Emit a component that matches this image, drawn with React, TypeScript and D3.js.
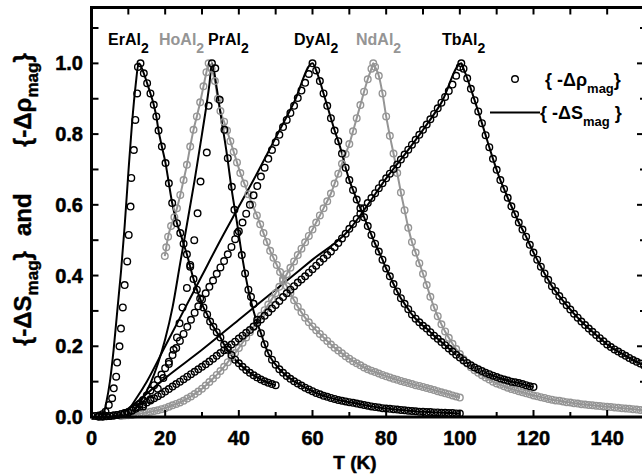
import React from 'react';
import * as d3 from 'd3';

type P = [number, number];

const W = 642;
const H = 476;
const BLACK = '#000000';
const GRAY = '#959595';

// ---------- axis ticks ----------
const xMajorTicks = [0, 20, 40, 60, 80, 100, 120, 140];
const xMinorTicks = [10, 30, 50, 70, 90, 110, 130, 150];
const yMajorTicks = [0, 0.2, 0.4, 0.6, 0.8, 1.0];
const yMinorTicks = [0.1, 0.3, 0.5, 0.7, 0.9, 1.1];
const yTickLabels = ['0.0', '0.2', '0.4', '0.6', '0.8', '1.0'];

// ---------- ErAl2 ----------
const erRho: P[] = [[0,.003],[1,.003],[2,.004],[3,.008],[3.8,.015],[4.7,.034],[5.6,.053],[6.05,.081],[6.7,.114],[6.96,.154],[7.6,.2],[8.0,.25],[8.5,.31],[9.0,.373],[9.7,.44],[10.1,.515],[10.6,.595],[10.8,.676],[11.5,.755],[11.9,.84],[12.4,.915],[12.6,.99],[13.3,1.0],[14.2,.972],[15.1,.944],[16,.915],[16.9,.883],[17.6,.85],[18.2,.81],[19.1,.765],[20.1,.718],[21,.661],[21.9,.605],[23.2,.548],[24.1,.52],[25,.49],[25.9,.46],[26.8,.425],[27.7,.39],[28.6,.36],[29.5,.335],[30.4,.31],[31.4,.29],[32.2,.27],[33.1,.255],[34,.24],[35,.225],[36,.205],[37,.19],[38,.175],[39,.162],[40,.152],[41,.142],[42,.133],[43,.125],[44,.118],[45,.112],[46,.106],[47,.101],[48,.097],[49,.093],[50,.09]];
const erSRise: P[] = [[0,0],[2.5,0],[3.3,.01],[4,.04],[5,.1],[6,.19],[7,.3],[8,.41],[9,.54],[10,.69],[11,.83],[12,.94],[12.8,1.0]];

// ---------- HoAl2 ----------
const hoRhoHead: P[] = [[19.9,.455],[20.3,.48],[20.8,.51],[21.6,.54],[22.5,.565],[23.2,.59],[24.1,.628],[25,.67],[25.9,.713],[26.8,.765],[27.7,.812],[28.6,.85],[29.5,.89],[30.4,.935],[31.2,.975],[31.8,1.0],[32.6,.985],[33.5,.95],[34.3,.9],[35,.865],[36,.835],[36.8,.81],[37.7,.78],[38.6,.75],[39.5,.72],[40.4,.69],[41.5,.66],[42.6,.63],[43.7,.6],[44.9,.57],[45.8,.545],[46.7,.52],[47.6,.495],[48.5,.47],[49.4,.45],[50.3,.43],[51.2,.41],[52,.39],[53,.37],[54,.35],[55,.33]];
const hoRhoTailStartT = 56; // 1 K steps
const hoRhoTail = [.312,.296,.281,.268,.256,.245,.235,.225,.215,.205,.196,.188,.18,.172,.165,.158,.152,.146,.14,.135,.131,.127,.123,.119,.115,.112,.108,.105,.102,.099,.096,.093,.09,.088,.085,.082,.079,.076,.073,.07,.067,.064,.061,.058,.055];

// ---------- PrAl2 ----------
const prRhoHead: P[] = [[14,.03],[16,.05],[18,.08],[19.5,.11],[21,.15],[22.3,.19],[23.2,.225],[23.9,.265],[24.7,.31],[25.9,.365],[26.8,.43],[27.9,.5],[28.8,.576],[29.6,.666],[31.3,.748],[31.8,.88],[32.7,1.0],[33.6,.986],[34.8,.897],[36.1,.812],[37,.732],[38.1,.651],[38.8,.586],[39.6,.52],[40.8,.458],[41.7,.406],[42.6,.36],[43.3,.34]];
const prRhoTailStartT = 44; // 1 K steps
const prRhoTail = [.32,.275,.237,.206,.18,.162,.148,.135,.125,.116,.108,.101,.095,.089,.083,.078,.073,.068,.064,.06,.057,.054,.051,.048,.046,.044,.042,.04,.038,.036,.034,.032,.03,.028,.027,.025,.024,.023,.022,.021,.02,.019,.018,.017,.016,.015,.015,.014,.014,.013,.013,.012,.012,.011,.011,.01,.01];
const prSHead: P[] = [[6,0],[10,.005],[12,.025],[14,.055],[16,.095],[18,.15],[20,.22],[22,.31],[24,.43],[26,.55],[28,.67],[30,.8],[32,.94],[32.7,1],[34,.93],[35,.86],[36.8,.74],[38.1,.64],[39.5,.55],[40.8,.46],[42,.39],[43,.34],[44,.3],[45,.265]];

// ---------- DyAl2 ----------
const dyRhoRiseStartT = 2; // 1 K steps
const dyRhoRise = [.002,.002,.003,.003,.004,.006,.008,.01,.013,.019,.027,.036,.048,.061,.075,.09,.105,.12,.138,.156,.175,.195,.215,.235,.255,.275,.295,.313,.332,.35,.368,.386,.405,.423,.441,.46,.481,.503,.525,.55,.575,.6,.627,.653,.68,.705,.73,.755,.777,.798,.82,.84,.86,.88,.902,.923,.945,.97,1.0];
const dyRhoFallStartT = 61;
const dyRhoFall = [.98,.95,.915,.88,.845,.81,.78,.745,.705,.67,.642,.615,.59,.565,.54,.515,.49,.468,.445,.42,.398,.376,.355,.336,.32,.305,.29,.278,.268,.258,.25,.24,.23,.221,.212,.203,.194,.185,.176,.168,.16,.153,.146,.14,.135,.13,.125,.121,.117,.113,.109,.106,.103,.1,.098,.096,.093,.09,.087,.085];
const dySRise: P[] = [[5,0],[8,.005],[10,.02],[12,.05],[15,.1],[20,.2],[25,.3],[30,.4],[35,.5],[40,.595],[45,.69],[50,.79],[55,.89],[60,1.0]];

// ---------- NdAl2 ----------
const ndRhoRiseStartT = 8;
const ndRhoRise = [.003,.004,.005,.006,.008,.009,.011,.013,.015,.017,.019,.022,.025,.029,.033,.037,.041,.046,.052,.058,.065,.072,.08,.089,.099,.109,.119,.13,.142,.155,.168,.181,.195,.21,.225,.24,.255,.27,.286,.302,.318,.334,.35,.368,.386,.404,.422,.44,.458,.476,.494,.512,.53,.55,.57,.59,.61,.632,.66,.688,.716,.744,.772,.808,.845,.882,.92,.955,.985];
const ndPeak: P[] = [[76.5, 1.0]];
const ndRhoFallStartT = 77;
const ndRhoFall = [.99,.965,.915,.85,.795,.745,.69,.635,.585,.535,.495,.465,.435,.405,.373,.34,.31,.285,.262,.242,.224,.207,.192,.178,.163,.151,.141,.132,.125,.118,.112,.106,.1,.095,.091,.087,.083,.079,.076,.073,.07,.067,.064,.061,.059,.056,.054,.051,.049,.047,.046,.044,.042,.041,.039,.038,.036,.035,.034,.033,.032,.031,.03,.029,.028,.027,.026,.025,.024,.023,.022,.021,.02,.02];

// ---------- TbAl2 ----------
const tbRhoRiseStartT = 2;
const tbRhoRise = [.001,.001,.002,.003,.004,.006,.008,.011,.014,.018,.023,.029,.035,.041,.047,.053,.059,.065,.072,.079,.086,.093,.1,.107,.114,.121,.128,.135,.142,.149,.157,.165,.173,.181,.189,.197,.205,.213,.222,.23,.238,.246,.256,.266,.276,.286,.296,.307,.317,.328,.339,.35,.36,.37,.38,.389,.398,.408,.418,.428,.438,.448,.458,.468,.48,.492,.505,.518,.532,.546,.56,.575,.59,.605,.619,.633,.647,.661,.675,.688,.701,.714,.728,.742,.756,.77,.784,.798,.812,.827,.842,.857,.873,.889,.905,.922,.94,.965,.99];
const tbPeak: P[] = [[100.4, 1.0]];
const tbRhoFallStartT = 101;
const tbRhoFall = [.985,.958,.928,.896,.864,.831,.797,.763,.73,.699,.67,.645,.62,.596,.573,.55,.53,.51,.487,.465,.445,.425,.406,.388,.37,.356,.342,.329,.316,.304,.292,.281,.27,.26,.25,.241,.232,.223,.214,.205,.198,.191,.185,.179,.173,.167,.161,.156,.151,.146];
const tbSRise: P[] = [[5,0],[8,.01],[12,.04],[20,.11],[30,.19],[40,.275],[50,.36],[60,.445],[70,.53],[75,.6],[80,.675],[85,.742],[90,.812],[95,.889],[100.4,1.0]];

const onGrid = (start: number, vals: number[]): P[] => vals.map((v, i) => [start + i, v] as P);

// assembled series
const hoRho = [...hoRhoHead, ...onGrid(hoRhoTailStartT, hoRhoTail)];
const prRho = [...prRhoHead, ...onGrid(prRhoTailStartT, prRhoTail)];
const dyRho = [...onGrid(dyRhoRiseStartT, dyRhoRise), ...onGrid(dyRhoFallStartT, dyRhoFall)];
const ndRho = [...onGrid(ndRhoRiseStartT, ndRhoRise), ...ndPeak, ...onGrid(ndRhoFallStartT, ndRhoFall)];
const tbRho = [...onGrid(tbRhoRiseStartT, tbRhoRise), ...tbPeak, ...onGrid(tbRhoFallStartT, tbRhoFall)];

const erS = [...erSRise, ...erRho.filter(p => p[0] >= 14)];
const hoS = hoRho;
const prS = [...prSHead, ...prRho.filter(p => p[0] >= 46)];
const dyS = [...dySRise, ...onGrid(dyRhoFallStartT, dyRhoFall)];
const ndS = ndRho.filter(p => p[0] >= 10);
const tbS = [...tbSRise, ...onGrid(tbRhoFallStartT, tbRhoFall)];

const seriesList = [
  { key: 'ho', color: GRAY, rho: hoRho, s: hoS },
  { key: 'nd', color: GRAY, rho: ndRho, s: ndS },
  { key: 'er', color: BLACK, rho: erRho, s: erS },
  { key: 'pr', color: BLACK, rho: prRho, s: prS },
  { key: 'dy', color: BLACK, rho: dyRho, s: dyS },
  { key: 'tb', color: BLACK, rho: tbRho, s: tbS },
];

const labelNames = ['ErAl', 'HoAl', 'PrAl', 'DyAl', 'NdAl', 'TbAl'];
const labelColors = [BLACK, GRAY, BLACK, BLACK, GRAY, BLACK];
const labelX = [108, 159, 208, 294, 356, 442];

export default function App() {
  const left = 91.5, right = 644, top = 7.5, bottom = 417;
  const x = d3.scaleLinear().domain([0, 150]).range([left, right]);
  const y = d3.scaleLinear().domain([0, 1.158]).range([bottom, top]);
  const line = d3.line<P>().x(d => x(d[0])).y(d => y(d[1])).curve(d3.curveMonotoneX);
  const font = "Arial, 'Liberation Sans', sans-serif";

  return (
    <svg width={W} height={H} style={{ position: 'absolute', left: 0, top: 0, background: '#fff' }}
      fontFamily={font} fontWeight="bold">
      <rect x={0} y={0} width={W} height={H} fill="#fff" />
      <defs>
        <clipPath id="plotclip">
          <rect x={left} y={top} width={right - left} height={bottom - top + 8} />
        </clipPath>
      </defs>
      <g clipPath="url(#plotclip)">
        {seriesList.map(s => (
          <path key={s.key + 'l'} d={line(s.s) || ''} fill="none" stroke={s.color} strokeWidth={2} />
        ))}
        {seriesList.map(s => (
          <g key={s.key + 'c'}>
            {s.rho.map((p, i) => (
              <circle key={i} cx={x(p[0])} cy={y(p[1])} r={3.3} fill="none" stroke={s.color} strokeWidth={1.4} />
            ))}
          </g>
        ))}
      </g>

      {/* frame */}
      <g stroke="#000" strokeWidth={3} fill="none">
        <line x1={left} y1={bottom} x2={right + 2} y2={bottom} />
        <line x1={left} y1={top} x2={right + 2} y2={top} />
        <line x1={left} y1={top - 1.5} x2={left} y2={bottom + 1.5} />
        <line x1={right} y1={top - 1.5} x2={right} y2={bottom + 1.5} />
      </g>
      {/* ticks */}
      <g stroke="#000" strokeWidth={2}>
        {xMajorTicks.map(t => (
          <g key={'xM' + t}>
            <line x1={x(t)} x2={x(t)} y1={bottom} y2={bottom - 7} />
            <line x1={x(t)} x2={x(t)} y1={top} y2={top + 7} />
          </g>
        ))}
        {xMinorTicks.map(t => (
          <g key={'xm' + t}>
            <line x1={x(t)} x2={x(t)} y1={bottom} y2={bottom - 5} />
            <line x1={x(t)} x2={x(t)} y1={top} y2={top + 7} />
          </g>
        ))}
        {yMajorTicks.map(t => (
          <g key={'yM' + t}>
            <line x1={left} x2={left + 7} y1={y(t)} y2={y(t)} />
            <line x1={right} x2={right - 7} y1={y(t)} y2={y(t)} />
          </g>
        ))}
        {yMinorTicks.map(t => (
          <g key={'ym' + t}>
            <line x1={left} x2={left + 7} y1={y(t)} y2={y(t)} />
            <line x1={right} x2={right - 4} y1={y(t)} y2={y(t)} />
          </g>
        ))}
      </g>
      {/* tick labels */}
      <g stroke="#000" strokeWidth={0.5}>
        {xMajorTicks.map(t => (
          <text key={'xl' + t} x={x(t)} y={445} textAnchor="middle" fontSize={20}>{t}</text>
        ))}
        {yMajorTicks.map((t, i) => (
          <text key={'yl' + t} x={83} y={y(t) + 7} textAnchor="end" fontSize={20}>{yTickLabels[i]}</text>
        ))}
        <text x={355} y={469} textAnchor="middle" fontSize={19}>T (K)</text>
      </g>

      {/* y title */}
      <g fontSize={24} stroke="#000" strokeWidth={0.4}>
        <text transform="translate(31,346) rotate(-90)">{'{-ΔS'}<tspan dy={7} fontSize={17}>mag</tspan><tspan dy={-7}>{'}'}</tspan></text>
        <text transform="translate(31,236) rotate(-90)">and</text>
        <text transform="translate(31,147) rotate(-90)">{'{-Δρ'}<tspan dy={7} fontSize={17}>mag</tspan><tspan dy={-7}>{'}'}</tspan></text>
      </g>

      {/* compound labels */}
      {labelNames.map((n, i) => (
        <text key={n} x={labelX[i]} y={45} fontSize={16} fill={labelColors[i]}>{n}<tspan dy={8} fontSize={14}>2</tspan></text>
      ))}

      {/* legend */}
      <circle cx={515} cy={79} r={3.3} fill="none" stroke="#000" strokeWidth={1.4} />
      <text x={545} y={86} fontSize={18}>{'{ -Δρ'}<tspan dy={7} fontSize={13}>mag</tspan><tspan dy={-7}>{'}'}</tspan></text>
      <line x1={490} x2={540} y1={112.5} y2={112.5} stroke="#000" strokeWidth={2} />
      <text x={540} y={119} fontSize={18}>{'{ -ΔS'}<tspan dy={7} fontSize={13}>mag</tspan><tspan dy={-7}>{' }'}</tspan></text>
    </svg>
  );
}
